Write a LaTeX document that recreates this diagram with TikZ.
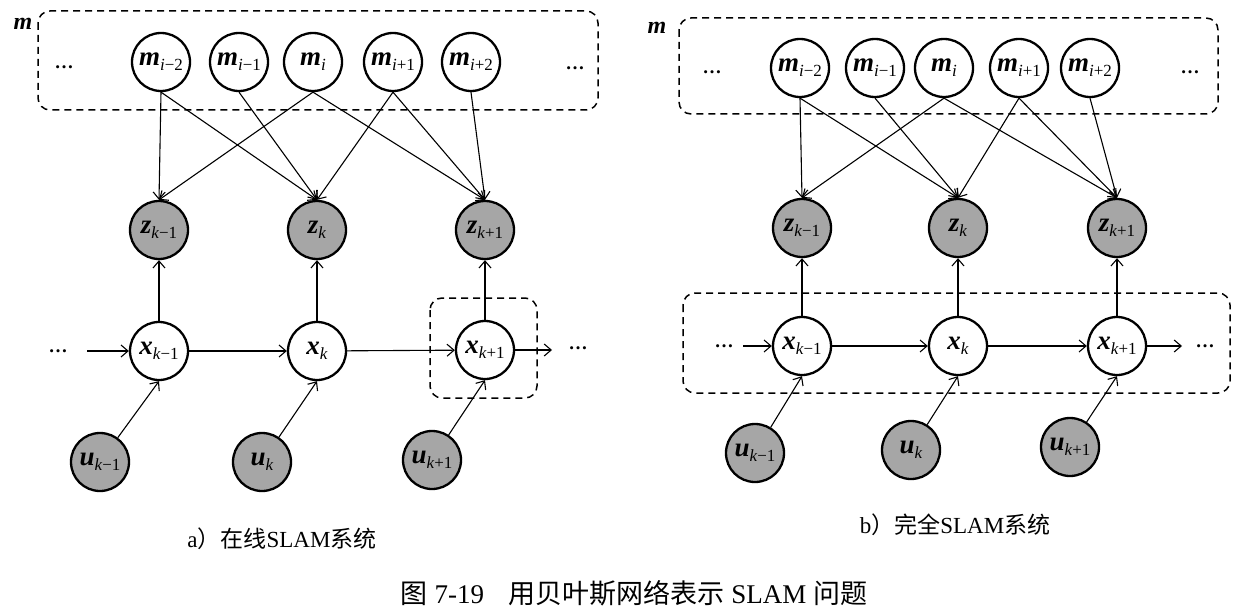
\documentclass[tikz,border=0pt]{standalone}
\usepackage{fontspec}
\setmainfont{Liberation Serif}
\newfontfamily\cjk{Noto Sans CJK SC}
\usetikzlibrary{arrows.meta}
\definecolor{obsgray}{HTML}{A6A6A6}
\newcommand\vl[3]{{\fontsize{27}{27}\selectfont\bfseries\itshape #1}\raisebox{-5pt}{\fontsize{17}{17}\selectfont\textit{#2}#3}}
\newcommand\dts{{\bfseries\fontsize{19}{19}\selectfont …}}
\tikzset{
  hid/.style={circle, draw, line width=2.3pt, fill=white, minimum size=58pt, inner sep=0pt},
  obs/.style={hid, fill=obsgray},
  arr/.style={line width=1.1pt, -{Straight Barb[length=7pt,width=12pt]}},
  grp/.style={draw, dash pattern=on 7pt off 5pt, line width=1.5pt, rounded corners=12pt},
  dotlab/.style={inner sep=0pt},
  mlab/.style={font=\fontsize{24}{24}\selectfont\bfseries\itshape, inner sep=0pt},
  captxt/.style={font=\fontsize{23}{23}\selectfont, inner sep=0pt},
}
\begin{document}
\begin{tikzpicture}[x=1pt,y=-1pt]
\useasboundingbox[fill=white] (0,0) rectangle (1249,615);

% ---------- left diagram ----------
\draw[grp] (38,11) rectangle (598,110);
\draw[grp] (430,298) rectangle (537,398);
\node[mlab] (Lm) at (23,24) {m};
\node[dotlab] (Ld1) at (64,67) {\dts};
\node[dotlab] (Ld2) at (575,68) {\dts};
\node[hid] (LmA) at (161,62) {\vl{m}{i}{−2}};
\node[hid] (LmB) at (239,62) {\vl{m}{i}{−1}};
\node[hid] (LmC) at (313,62) {\vl{m}{i}{}};
\node[hid] (LmD) at (393,62) {\vl{m}{i}{+1}};
\node[hid] (LmE) at (471,62) {\vl{m}{i}{+2}};
\node[obs] (LzA) at (159,230) {\vl{z}{k}{−1}};
\node[obs] (LzB) at (317,230) {\vl{z}{k}{}};
\node[obs] (LzC) at (485,230) {\vl{z}{k}{+1}};
\node[hid] (LxA) at (159,351) {\vl{x}{k}{−1}};
\node[hid] (LxB) at (317,351) {\vl{x}{k}{}};
\node[hid] (LxC) at (485,350) {\vl{x}{k}{+1}};
\node[obs] (LuA) at (100,462) {\vl{u}{k}{−1}};
\node[obs] (LuB) at (262,462) {\vl{u}{k}{}};
\node[obs] (LuC) at (432,460) {\vl{u}{k}{+1}};
\node[dotlab] (Ld3) at (58,351) {\dts};
\node[dotlab] (Ld4) at (578,348) {\dts};
\coordinate (La0) at (87,351);
\coordinate (La1) at (552,350);

\draw[arr] (LmA.south) -- (LzA.north);
\draw[arr] (LmA.south) -- (LzB.north);
\draw[arr] (LmB.south) -- (LzB.north);
\draw[arr] (LmC.south) -- (LzA.north);
\draw[arr] (LmC.south) -- (LzC.north);
\draw[arr] (LmD.south) -- (LzB.north);
\draw[arr] (LmD.south) -- (LzC.north);
\draw[arr] (LmE.south) -- (LzC.north);
\draw[arr] (LxA) -- (LzA);
\draw[arr] (LxB) -- (LzB);
\draw[arr] (LxC) -- (LzC);
\draw[arr] (La0) -- (LxA);
\draw[arr] (LxA) -- (LxB);
\draw[arr] (LxB) -- (LxC);
\draw[arr] (LxC) -- (La1);
\draw[arr] (LuA) -- (LxA.south);
\draw[arr] (LuB) -- (LxB.south);
\draw[arr] (LuC) -- (LxC.south);

% ---------- right diagram ----------
\draw[grp] (679,18) rectangle (1218,114);
\draw[grp] (683,293) rectangle (1230,393);
\node[mlab] (Rm) at (657,28) {m};
\node[dotlab] (Rd1) at (712,72) {\dts};
\node[dotlab] (Rd2) at (1190,72) {\dts};
\node[hid] (RmA) at (800,68) {\vl{m}{i}{−2}};
\node[hid] (RmB) at (875,68) {\vl{m}{i}{−1}};
\node[hid] (RmC) at (944,68) {\vl{m}{i}{}};
\node[hid] (RmD) at (1019,68) {\vl{m}{i}{+1}};
\node[hid] (RmE) at (1090,68) {\vl{m}{i}{+2}};
\node[obs] (RzA) at (802,228) {\vl{z}{k}{−1}};
\node[obs] (RzB) at (958,228) {\vl{z}{k}{}};
\node[obs] (RzC) at (1117,228) {\vl{z}{k}{+1}};
\node[hid] (RxA) at (802,346) {\vl{x}{k}{−1}};
\node[hid] (RxB) at (958,346) {\vl{x}{k}{}};
\node[hid] (RxC) at (1117,346) {\vl{x}{k}{+1}};
\node[obs] (RuA) at (755,453) {\vl{u}{k}{−1}};
\node[obs] (RuB) at (911,450) {\vl{u}{k}{}};
\node[obs] (RuC) at (1070,447) {\vl{u}{k}{+1}};
\node[dotlab] (Rd3) at (724,346) {\dts};
\node[dotlab] (Rd4) at (1205,346) {\dts};
\coordinate (Ra0) at (743,346);
\coordinate (Ra1) at (1182,346);

\draw[arr] (RmA.south) -- (RzA.north);
\draw[arr] (RmA.south) -- (RzB.north);
\draw[arr] (RmB.south) -- (RzB.north);
\draw[arr] (RmC.south) -- (RzA.north);
\draw[arr] (RmC.south) -- (RzC.north);
\draw[arr] (RmD.south) -- (RzB.north);
\draw[arr] (RmD.south) -- (RzC.north);
\draw[arr] (RmE.south) -- (RzC.north);
\draw[arr] (RxA) -- (RzA);
\draw[arr] (RxB) -- (RzB);
\draw[arr] (RxC) -- (RzC);
\draw[arr] (Ra0) -- (RxA);
\draw[arr] (RxA) -- (RxB);
\draw[arr] (RxB) -- (RxC);
\draw[arr] (RxC) -- (Ra1);
\draw[arr] (RuA) -- (RxA.south);
\draw[arr] (RuB) -- (RxB.south);
\draw[arr] (RuC) -- (RxC.south);

% ---------- captions ----------
\node[captxt] (capa) at (282,539) {a{\cjk ）在线}SLAM{\cjk 系统}};
\node[captxt] (capb) at (955,525) {b{\cjk ）完全}SLAM{\cjk 系统}};
\node[captxt, font=\fontsize{27}{27}\selectfont] (title) at (634,593) {{\cjk 图} 7-19\hspace{0.9em}{\cjk 用贝叶斯网络表示} SLAM {\cjk 问题}};
\end{tikzpicture}
\end{document}
